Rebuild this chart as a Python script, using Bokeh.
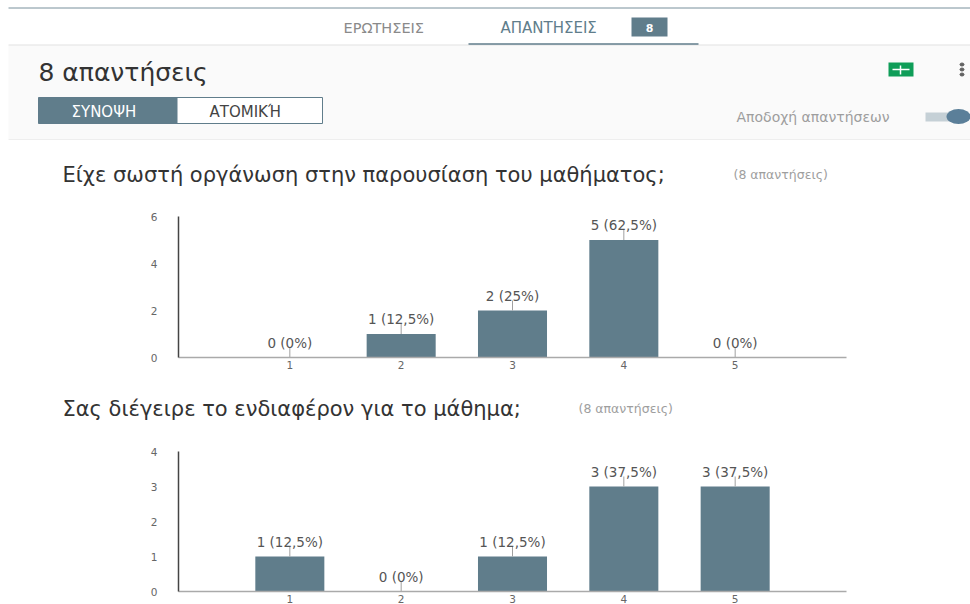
from math import pi
from bokeh.plotting import figure
from bokeh.layouts import column
from bokeh.models import FixedTicker
from bokeh.core.properties import value
from bokeh.embed import file_html
from bokeh.resources import INLINE

categories = [1, 2, 3, 4, 5]
q1_title = "Είχε σωστή οργάνωση στην παρουσίαση του μαθήματος;"
q1_counts = [0, 1, 2, 5, 0]
q1_labels = ["0 (0%)", "1 (12,5%)", "2 (25%)", "5 (62,5%)", "0 (0%)"]
q1_yticks = [0, 2, 4, 6]
q2_title = "Σας διέγειρε το ενδιαφέρον για το μάθημα;"
q2_counts = [1, 0, 1, 3, 3]
q2_labels = ["1 (12,5%)", "0 (0%)", "1 (12,5%)", "3 (37,5%)", "3 (37,5%)"]
q2_yticks = [0, 1, 2, 3, 4]
answers_note = "(8 απαντήσεις)"

BAR = "#607d8b"
SANS = "DejaVu Sans"
W = 970
AX_L, AX_R = 178, 846


def chart(title, note, note_x, counts, labels, yticks, height, top, bottom, title_y):
    ymax = max(yticks)
    xu = (AX_R - AX_L) / 6
    yu = (height - top - bottom) / ymax
    p = figure(width=W, height=height,
               x_range=(-AX_L / xu, 6 + (W - AX_R) / xu),
               y_range=(-bottom / yu, ymax + top / yu),
               output_backend="svg", toolbar_location=None, min_border=0)
    p.outline_line_color = None
    p.grid.visible = False
    p.vbar(x=categories, top=counts, width=0.62, color=BAR, line_color=None)
    p.ray(x=categories, y=counts, length=10, length_units="screen", angle=pi / 2,
          line_color="#a0a0a0", line_width=1)
    p.text(x=categories, y=counts, text=labels, text_align="center", text_baseline="middle",
           y_offset=-15, text_font=value(SANS), text_font_size="13.5px", text_color="#555555")
    p.xaxis.ticker = FixedTicker(ticks=categories)
    p.yaxis.ticker = FixedTicker(ticks=yticks)
    p.xaxis.fixed_location = 0
    p.yaxis.fixed_location = 0
    p.xaxis.bounds = (0, 6)
    p.yaxis.bounds = (0, ymax)
    for ax in (p.xaxis[0], p.yaxis[0]):
        ax.major_tick_line_color = None
        ax.minor_tick_line_color = None
        ax.major_label_text_font = SANS
        ax.major_label_text_font_size = "10.5px"
        ax.major_label_text_color = "#666666"
    p.xaxis.axis_line_color = "#aaaaaa"
    p.xaxis.axis_line_width = 1.5
    p.xaxis.major_label_standoff = -3
    p.yaxis.axis_line_color = "#444444"
    p.yaxis.axis_line_width = 1.5
    p.yaxis.major_label_standoff = 15
    ty = ymax + (top - title_y) / yu
    p.text(x=[(62 - AX_L) / xu], y=[ty], text=[title], text_font=value(SANS),
           text_font_size="21px", text_color="#333333", text_baseline="middle")
    p.text(x=[(note_x - AX_L) / xu], y=[ty], text=[note], text_font=value(SANS),
           text_font_size="12.5px", text_color="#9e9e9e", text_baseline="middle")
    return p


h = figure(width=W, height=140, x_range=(0, W), y_range=(140, 0), output_backend="svg",
           toolbar_location=None, min_border=0, background_fill_color="white")
h.axis.visible = False
h.grid.visible = False
h.outline_line_color = None
h.quad(left=[8], right=[W], top=[45], bottom=[139], color="#fafafa", line_color=None)
h.segment(x0=[8, 8, 8], x1=[W, W, W], y0=[7.5, 44.5, 139.5], y1=[7.5, 44.5, 139.5],
          line_color=["#78909c", "#e0e0e0", "#e0e0e0"], line_width=1)
h.segment(x0=[468], x1=[698], y0=[43.5], y1=[43.5], line_color=BAR, line_width=1.5)
h.quad(left=[631], right=[667], top=[17], bottom=[36], color=BAR, line_color=None)
h.quad(left=[38], right=[322], top=[97], bottom=[123], fill_color="white", line_color=BAR)
h.quad(left=[38], right=[177], top=[97], bottom=[123], color=BAR, line_color=None)
h.quad(left=[888], right=[913], top=[62], bottom=[76], color="#0f9d58", line_color=None)
h.segment(x0=[892, 900], x1=[909, 900], y0=[69, 65], y1=[69, 74], line_color="white", line_width=1.5)
h.ellipse(x=[961.5, 961.5, 961.5], y=[64, 69, 74], width=4, height=3, color="#616161")
h.quad(left=[925], right=[960], top=[112], bottom=[121], color="#c5d0d6", line_color=None)
h.ellipse(x=[958], y=[116], width=24, height=15, color="#5b7f99", line_color=None)


def htext(x, y, t, size, color, align="left", style="normal"):
    h.text(x=[x], y=[y], text=[t], text_font=value(SANS), text_font_size=size, text_color=color,
           text_baseline="middle", text_align=align, text_font_style=style)


htext(343, 27, "ΕΡΩΤΗΣΕΙΣ", "14.5px", "#8a8a8a")
htext(500, 27, "ΑΠΑΝΤΗΣΕΙΣ", "15px", "#607d8b")
htext(649, 27, "8", "11px", "white", "center", "bold")
htext(38, 72, "8 απαντήσεις", "25px", "#333333")
htext(71, 111, "ΣΥΝΟΨΗ", "15px", "white")
htext(209, 111, "ΑΤΟΜΙΚΉ", "15px", "#444444")
htext(736, 116, "Αποδοχή απαντήσεων", "14px", "#9e9e9e")

c1 = chart(q1_title, answers_note, 733, q1_counts, q1_labels, q1_yticks, 245, 76, 28, 34)
c2 = chart(q2_title, answers_note, 578, q2_counts, q2_labels, q2_yticks, 219, 66, 13, 23)

page = column(h, c1, c2, spacing=0, margin=0)
open("out.html", "w").write(file_html(page, INLINE))
